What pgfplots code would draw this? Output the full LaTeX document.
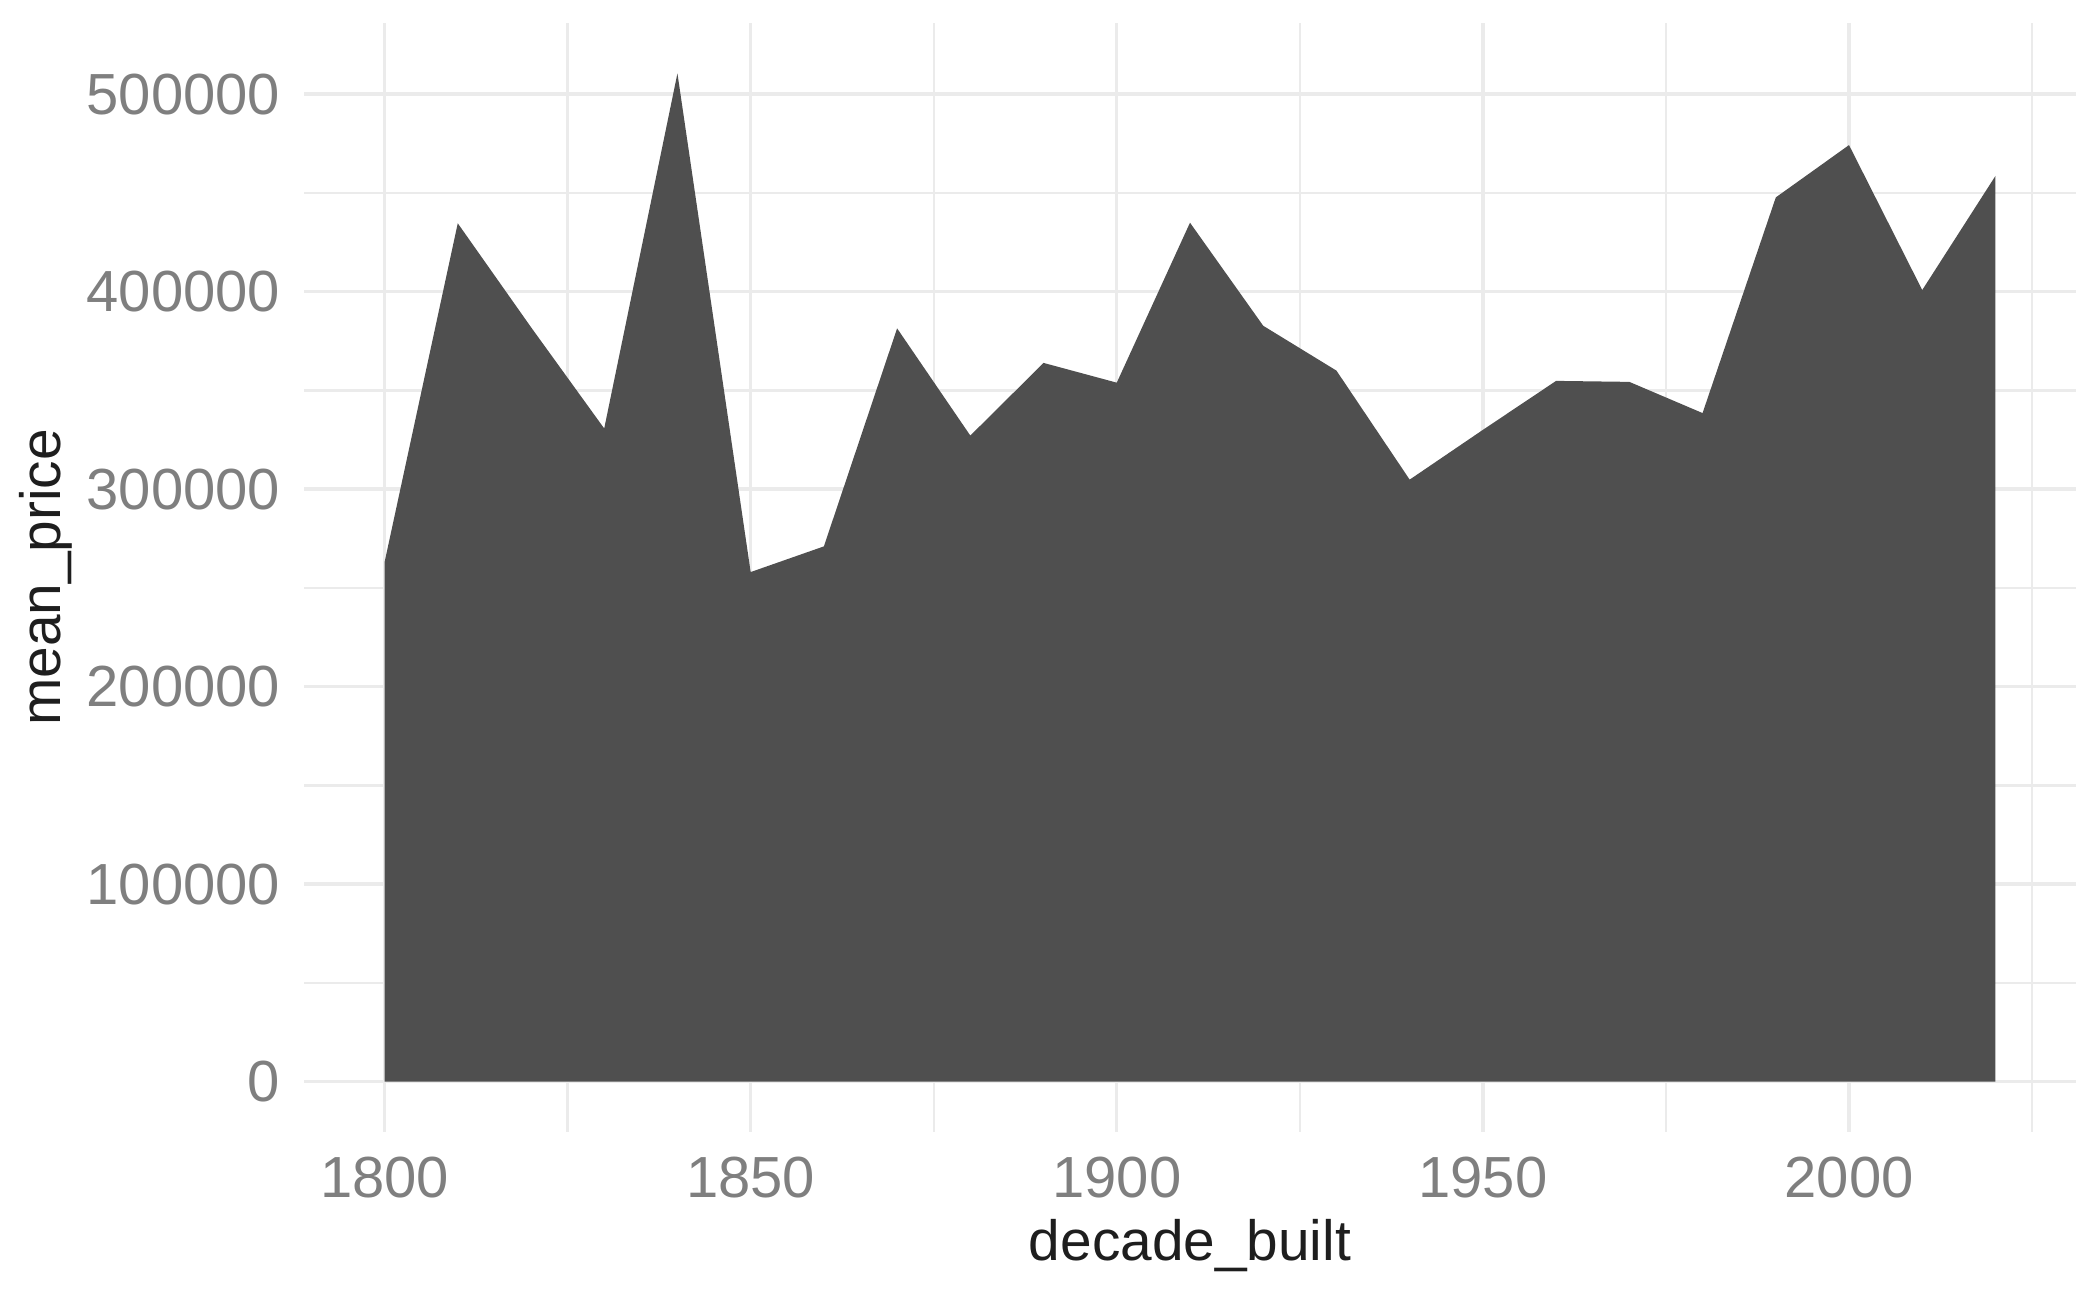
\documentclass[border=0pt]{standalone}
\usepackage{pgfplots}
\pgfplotsset{compat=1.18}
\usepackage{fontspec}
\setmainfont{Liberation Sans}
\definecolor{areafill}{HTML}{4F4F4F}
\definecolor{gridc}{HTML}{EBEBEB}
\definecolor{tickc}{HTML}{7F7F7F}
\definecolor{titlec}{HTML}{1E1E1E}
\begin{document}
\begin{tikzpicture}
\begin{axis}[
  scale only axis,
  width=443pt, height=277.25pt,
  clip=false,
  xmin=1789, xmax=2031,
  ymin=-25525, ymax=536025,
  xtick={1800,1850,1900,1950,2000},
  xticklabels={1800,1850,1900,1950,2000},
  minor xtick={1825,1875,1925,1975,2025},
  ytick={0,100000,200000,300000,400000,500000},
  yticklabels={0,100000,200000,300000,400000,500000},
  minor ytick={50000,150000,250000,350000,450000},
  grid=both,
  major grid style={draw=gridc, line width=0.85pt},
  minor grid style={draw=gridc, line width=0.6pt},
  axis line style={draw=none},
  tick style={draw=none},
  xticklabel style={font=\fontsize{14.5}{17}\selectfont, text=tickc, anchor=base, inner sep=0pt, yshift=-16.25pt},
  yticklabel style={font=\fontsize{14.5}{17}\selectfont, text=tickc, anchor=east, inner sep=0pt, xshift=-5.75pt},
  scaled y ticks=false,
]
\addplot[fill=areafill, draw=none] table {
x y
1800 262900
1810 434600
1820 382000
1830 330700
1840 510500
1850 258000
1860 271000
1870 381400
1880 327100
1890 363900
1900 353900
1910 434900
1920 382700
1930 360000
1940 304800
1950 330000
1960 354800
1970 354300
1980 338500
1990 447700
2000 474200
2010 400800
2020 458600
} \closedcycle;
\coordinate (sw) at (rel axis cs:0,0);
\coordinate (ne) at (rel axis cs:1,1);
\coordinate (ylab) at (rel axis cs:0,0.5);
\coordinate (xlab) at (rel axis cs:0.5,0);
\end{axis}
\node[rotate=90, anchor=base, text=titlec, font=\fontsize{14.2}{17}\selectfont, inner sep=0pt] at ([xshift=-60.75pt]ylab) {mean\_price};
\node[anchor=base, text=titlec, font=\fontsize{14.2}{17}\selectfont, inner sep=0pt] at ([yshift=-32pt]xlab) {decade\_built};
\pgfresetboundingbox
\path[use as bounding box] ([shift={(-76pt,-41.25pt)}]sw) rectangle ([shift={(6pt,5.75pt)}]ne);
\end{tikzpicture}
\end{document}
